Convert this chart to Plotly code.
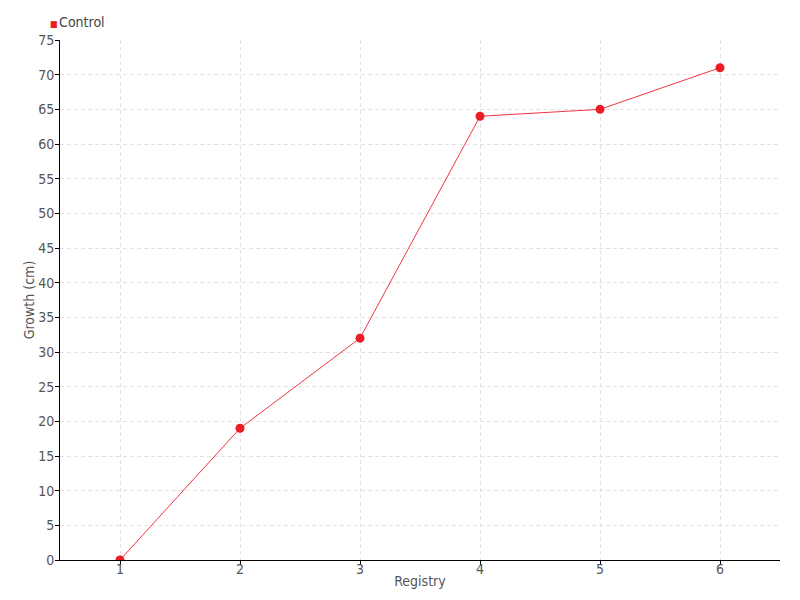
import plotly.graph_objects as go

registry = [1, 2, 3, 4, 5, 6]
growth = [0, 19, 32, 64, 65, 71]
series_name = "Control"
y_ticks = list(range(0, 76, 5))

red = "#ec1c24"
font_family = "Liberation Sans Narrow, DejaVu Sans Condensed, sans-serif"

fig = go.Figure()
fig.add_trace(go.Scatter(
    x=registry, y=growth, mode="lines+markers", name=series_name,
    line=dict(color="rgba(240,30,45,0.9)", width=1),
    marker=dict(color=red, size=9),
    showlegend=False,
))

fig.add_annotation(
    xref="paper", yref="paper", x=-0.017, y=1.0, yshift=18,
    xanchor="left", yanchor="middle", showarrow=False,
    text=(f"<span style='color:{red};font-size:9px'>■</span>"
          f"<span style='font-size:5px'> </span>{series_name}"),
    font=dict(size=14, color="#444444"),
)

fig.update_layout(
    width=800, height=600,
    margin=dict(l=60, r=20, t=40, b=40, autoexpand=False),
    plot_bgcolor="white", paper_bgcolor="white",
    font=dict(family=font_family, size=14, color="#555555"),
    showlegend=False,
    xaxis=dict(
        range=[0.5, 6.5], tickmode="array", tickvals=registry,
        showline=True, linecolor="black", linewidth=1,
        ticks="outside", ticklen=4, tickcolor="black",
        ticklabelstandoff=-8,
        showgrid=True, gridcolor="#e2e2e2", griddash="4px,3px", gridwidth=1,
        zeroline=False, automargin=False,
        title=dict(text="Registry", standoff=0, font=dict(size=14)),
    ),
    yaxis=dict(
        range=[0, 75], tickmode="array", tickvals=y_ticks,
        showline=True, linecolor="black", linewidth=1,
        ticks="outside", ticklen=4, tickcolor="black",
        ticklabelstandoff=-2,
        showgrid=True, gridcolor="#e2e2e2", griddash="4px,3px", gridwidth=1,
        zeroline=False, automargin=False,
        title=dict(text="Growth (cm)", standoff=0, font=dict(size=14)),
    ),
)

fig.write_html("out.html", post_script="document.body.style.margin='0';",
               config={"displayModeBar": False})
